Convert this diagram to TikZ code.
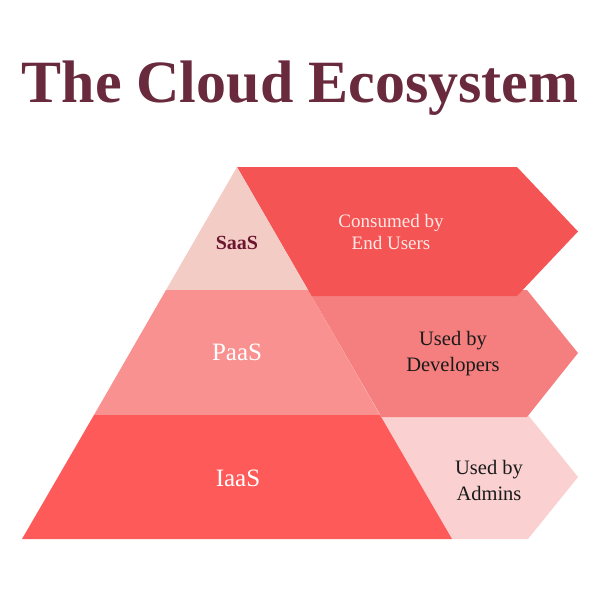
\documentclass[tikz,border=0pt]{standalone}
\usepackage{fontspec}
\setmainfont{Liberation Serif}
\definecolor{titlecol}{HTML}{6A2A3E}
\definecolor{saastri}{HTML}{F4CCC6}
\definecolor{saasarrow}{HTML}{F55454}
\definecolor{paastrap}{HTML}{F8918F}
\definecolor{paasarrow}{HTML}{F57F7F}
\definecolor{iaastrap}{HTML}{FF5A5A}
\definecolor{adminarrow}{HTML}{FAD0D0}
\definecolor{saastext}{HTML}{6B1630}
\definecolor{creamtext}{HTML}{FCE9E6}
\definecolor{darktext}{HTML}{1A1A1A}
\begin{document}
\begin{tikzpicture}[x=1pt,y=-1pt,
  lbl/.style={align=center,inner sep=0pt},
  small/.style={lbl,font=\fontsize{19}{22}\selectfont},
  mid/.style={lbl,font=\fontsize{20.5}{26}\selectfont,text=darktext},
  big/.style={lbl,font=\fontsize{25}{28}\selectfont,text=white}]
\useasboundingbox (0,0) rectangle (600,600);
% pyramid vertices
\coordinate (apex) at (237,167);
\coordinate (l1) at (166,290);
\coordinate (r1) at (308,290);
\coordinate (l2) at (94,415);
\coordinate (r2) at (380,415);
\coordinate (l3) at (22,539);
\coordinate (r3) at (452,539);
% arrows
\fill[adminarrow] (r2) -- (528,415) -- (578,477) -- (528,539) -- (r3) -- cycle;
\fill[paasarrow] (r1) -- (527,290) -- (578,353) -- (527,417) -- (381.5,417) -- cycle;
\fill[saasarrow] (apex) -- (517,167) -- (578,231.5) -- (517,296) -- (311.5,296) -- cycle;
% pyramid
\fill[saastri] (apex) -- (r1) -- (l1) -- cycle;
\fill[paastrap] (l1) -- (r1) -- (r2) -- (l2) -- cycle;
\fill[iaastrap] (l2) -- (r2) -- (r3) -- (l3) -- cycle;
% title
\node[lbl,text=titlecol,font=\fontsize{60}{66}\selectfont\bfseries,anchor=base] (title) at (300,102) {The Cloud Ecosystem};
% labels
\node[lbl,font=\fontsize{20}{22}\selectfont\bfseries,text=saastext] (saas) at (237,243) {SaaS};
\node[small,text=creamtext] (consumed) at (391,232) {Consumed by\\End Users};
\node[big] (paas) at (237,352) {PaaS};
\node[mid] (devs) at (453,354) {Used by\\Developers};
\node[big] (iaas) at (238,478) {IaaS};
\node[mid] (admins) at (489,480) {Used by\\Admins};
\end{tikzpicture}
\end{document}
